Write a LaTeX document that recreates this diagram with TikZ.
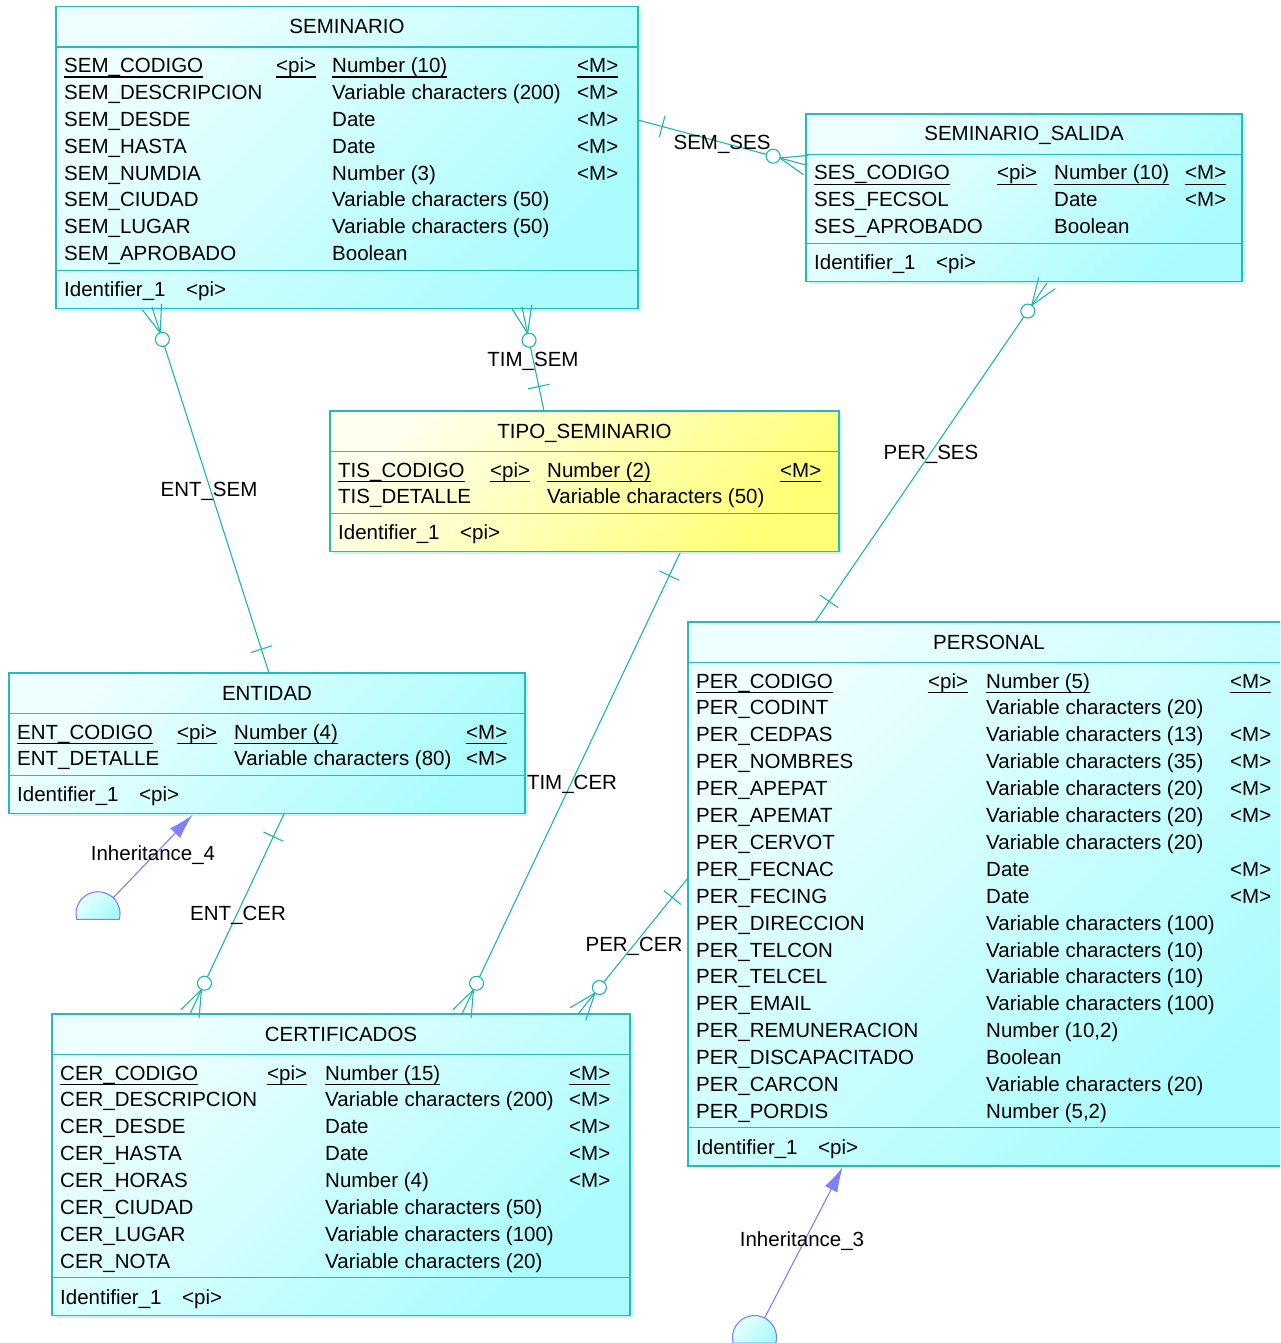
\documentclass[tikz,border=0pt]{standalone}
\usepackage{fontspec}
\setmainfont{Liberation Sans}
\usetikzlibrary{calc,arrows.meta}
\definecolor{bordc}{RGB}{40,186,186}
\definecolor{relc}{RGB}{30,180,180}
\definecolor{cyA}{RGB}{238,255,255}
\definecolor{cyB}{RGB}{170,252,252}
\definecolor{yeA}{RGB}{255,255,238}
\definecolor{yeB}{RGB}{255,255,118}
\definecolor{inhc}{RGB}{128,128,255}
\definecolor{shadowc}{RGB}{200,244,244}
\newcommand{\fs}{\fontsize{20.5}{24}\selectfont}
\newcommand{\ulx}[1]{\setbox0\hbox{#1}\rlap{\rule[-5.2pt]{\wd0}{1.2pt}}\box0}
\tikzset{
  ebox/.style={draw=bordc,line width=1.3pt,inner sep=0pt,outer sep=0pt,anchor=north west,rectangle},
  cy/.style={top color=cyA,bottom color=cyB,shading angle=45},
  ye/.style={top color=yeA,bottom color=yeB,shading angle=45},
  sepl/.style={draw=bordc,line width=1.1pt},
  txt/.style={anchor=base west,inner sep=0pt,font=\fs},
  ttl/.style={anchor=base,inner sep=0pt,font=\fs},
  lbl/.style={anchor=center,inner sep=0pt,font=\fs},
  rel/.style={draw=relc,line width=1.1pt},
  inh/.style={draw=inhc,line width=1.1pt},
}
\newcommand{\mkentity}[7]{%
  \def\ep{#1}%
  \pgfmathsetmacro\eSepA{#4+40.5}%
  \pgfmathsetmacro\rowA{#4+66}%
  \pgfmathsetmacro\eSepB{#4+66+26.9*(#5-1)+9.5}%
  \pgfmathsetmacro\eBot{\eSepB+38}%
  \pgfmathsetmacro\eW{#3-#2}%
  \pgfmathsetmacro\eH{\eBot-#4}%
  \pgfmathsetmacro\eMid{(#2+#3)/2}%
  \fill[shadowc] (#2+2.5,#4+2.5) rectangle (#3+2.5,\eBot+2.5);
  \node[ebox,#6,minimum width=\eW pt,minimum height=\eH pt] (#1) at (#2,#4) {};
  \draw[sepl] (#2,\eSepA) -- (#3,\eSepA);
  \draw[sepl] (#2,\eSepB) -- (#3,\eSepB);
  \node[ttl] (#1-title) at (\eMid,#4+27) {#7};
  \node[txt] (#1-idn) at (#2+8,\eSepB+26.5) {Identifier\_1};
  \node[txt] (#1-idp) at (#2+130,\eSepB+26.5) {<pi>};
}
\newcommand{\setcols}[4]{\def\cA{#1}\def\cB{#2}\def\cC{#3}\def\cD{#4}}
\newcommand{\attr}[5]{%
  \pgfmathsetmacro\yy{\rowA+26.9*(#1-1)}%
  \node[txt] (\ep-n#1) at (\cA,\yy) {#2};
  \node[txt] (\ep-p#1) at (\cB,\yy) {#3};
  \node[txt] (\ep-t#1) at (\cC,\yy) {#4};
  \node[txt] (\ep-m#1) at (\cD,\yy) {#5};
}
\newcommand{\relation}[5]{%
  \coordinate (#1-a) at #2;
  \coordinate (#1-b) at #3;
  \coordinate (#1-c) at ($(#1-b)!34pt!(#1-a)$);
  \coordinate (#1-e) at ($(#1-b)!41pt!(#1-a)$);
  \coordinate (#1-f) at ($(#1-b)!27pt!(#1-a)$);
  \coordinate (#1-q) at ($(#1-a)!25pt!(#1-b)$);
  \draw[rel] (#1-a) -- (#1-e);
  \draw[rel,fill=white] (#1-c) circle[radius=7pt];
  \draw[rel] (#1-f) -- (#1-b);
  \draw[rel] (#1-f) -- ($(#1-b)!10pt!90:(#1-a)$);
  \draw[rel] (#1-f) -- ($(#1-b)!10pt!-90:(#1-a)$);
  \draw[rel] ($(#1-q)!11pt!90:(#1-b)$) -- ($(#1-q)!11pt!-90:(#1-b)$);
  \node[lbl] (#1-lbl) at #5 {#4};
}
\newcommand{\inherit}[5]{%
  \coordinate (#1-c) at #2;
  \coordinate (#1-t) at #3;
  \path[inh,top color=cyA,bottom color=cyB,shading angle=45] (#1-c) ++(-21.25pt,-5.7pt) arc[start angle=195,end angle=-15,radius=22pt] -- cycle;
  \draw[inh,-{Latex[length=25pt,width=14pt]},fill=none] ($(#1-c)!22pt!(#1-t)$) -- (#1-t);
  \node[lbl] (#1-lbl) at #5 {#4};
}
\begin{document}
\begin{tikzpicture}[x=1pt,y=-1pt]
\useasboundingbox (0,0) rectangle (1280,1343);
\clip (0,0) rectangle (1280,1343);
\fill[white] (0,0) rectangle (1280,1343);

% SEMINARIO
\mkentity{sem}{56}{638}{6.5}{8}{cy}{SEMINARIO}
\setcols{64}{276}{332}{577}
\attr{1}{\ulx{SEM\_CODIGO}}{\ulx{<pi>}}{\ulx{Number (10)}}{\ulx{<M>}}
\attr{2}{SEM\_DESCRIPCION}{}{Variable characters (200)}{<M>}
\attr{3}{SEM\_DESDE}{}{Date}{<M>}
\attr{4}{SEM\_HASTA}{}{Date}{<M>}
\attr{5}{SEM\_NUMDIA}{}{Number (3)}{<M>}
\attr{6}{SEM\_CIUDAD}{}{Variable characters (50)}{}
\attr{7}{SEM\_LUGAR}{}{Variable characters (50)}{}
\attr{8}{SEM\_APROBADO}{}{Boolean}{}

% SEMINARIO_SALIDA
\mkentity{ses}{806}{1242}{114}{3}{cy}{SEMINARIO\_SALIDA}
\setcols{814}{997}{1054}{1185}
\attr{1}{\ulx{SES\_CODIGO}}{\ulx{<pi>}}{\ulx{Number (10)}}{\ulx{<M>}}
\attr{2}{SES\_FECSOL}{}{Date}{<M>}
\attr{3}{SES\_APROBADO}{}{Boolean}{}

% TIPO_SEMINARIO
\mkentity{tis}{330}{839}{411}{2}{ye}{TIPO\_SEMINARIO}
\setcols{338}{490}{547}{780}
\attr{1}{\ulx{TIS\_CODIGO}}{\ulx{<pi>}}{\ulx{Number (2)}}{\ulx{<M>}}
\attr{2}{TIS\_DETALLE}{}{Variable characters (50)}{}

% ENTIDAD
\mkentity{ent}{9}{525}{673}{2}{cy}{ENTIDAD}
\setcols{17}{177}{234}{466}
\attr{1}{\ulx{ENT\_CODIGO}}{\ulx{<pi>}}{\ulx{Number (4)}}{\ulx{<M>}}
\attr{2}{ENT\_DETALLE}{}{Variable characters (80)}{<M>}

% PERSONAL
\mkentity{per}{688}{1290}{622}{17}{cy}{PERSONAL}
\setcols{696}{928}{986}{1230}
\attr{1}{\ulx{PER\_CODIGO}}{\ulx{<pi>}}{\ulx{Number (5)}}{\ulx{<M>}}
\attr{2}{PER\_CODINT}{}{Variable characters (20)}{}
\attr{3}{PER\_CEDPAS}{}{Variable characters (13)}{<M>}
\attr{4}{PER\_NOMBRES}{}{Variable characters (35)}{<M>}
\attr{5}{PER\_APEPAT}{}{Variable characters (20)}{<M>}
\attr{6}{PER\_APEMAT}{}{Variable characters (20)}{<M>}
\attr{7}{PER\_CERVOT}{}{Variable characters (20)}{}
\attr{8}{PER\_FECNAC}{}{Date}{<M>}
\attr{9}{PER\_FECING}{}{Date}{<M>}
\attr{10}{PER\_DIRECCION}{}{Variable characters (100)}{}
\attr{11}{PER\_TELCON}{}{Variable characters (10)}{}
\attr{12}{PER\_TELCEL}{}{Variable characters (10)}{}
\attr{13}{PER\_EMAIL}{}{Variable characters (100)}{}
\attr{14}{PER\_REMUNERACION}{}{Number (10,2)}{}
\attr{15}{PER\_DISCAPACITADO}{}{Boolean}{}
\attr{16}{PER\_CARCON}{}{Variable characters (20)}{}
\attr{17}{PER\_PORDIS}{}{Number (5,2)}{}

% CERTIFICADOS
\mkentity{cer}{52}{630}{1014}{8}{cy}{CERTIFICADOS}
\setcols{60}{267}{325}{569}
\attr{1}{\ulx{CER\_CODIGO}}{\ulx{<pi>}}{\ulx{Number (15)}}{\ulx{<M>}}
\attr{2}{CER\_DESCRIPCION}{}{Variable characters (200)}{<M>}
\attr{3}{CER\_DESDE}{}{Date}{<M>}
\attr{4}{CER\_HASTA}{}{Date}{<M>}
\attr{5}{CER\_HORAS}{}{Number (4)}{<M>}
\attr{6}{CER\_CIUDAD}{}{Variable characters (50)}{}
\attr{7}{CER\_LUGAR}{}{Variable characters (100)}{}
\attr{8}{CER\_NOTA}{}{Variable characters (20)}{}

% relationships: one end, many end
\relation{semses}{(638,120)}{(806,165)}{SEM\_SES}{(722,144)}
\relation{entsem}{(269,673)}{(152,307)}{ENT\_SEM}{(209,491)}
\relation{timsem}{(544,411)}{(522,307)}{TIM\_SEM}{(533,361)}
\relation{perses}{(815,622)}{(1047,283)}{PER\_SES}{(931,454)}
\relation{timcer}{(680,553)}{(462,1014)}{TIM\_CER}{(572,784)}
\relation{entcer}{(284,814)}{(190,1014)}{ENT\_CER}{(238,915)}
\relation{percer}{(688,878)}{(578,1014)}{PER\_CER}{(634,946)}

% inheritances
\inherit{inhf}{(98,913.7)}{(192.5,815)}{Inheritance\_4}{(153,855)}
\inherit{inht}{(754.5,1337.5)}{(842.7,1167)}{Inheritance\_3}{(802,1241)}
\end{tikzpicture}
\end{document}
